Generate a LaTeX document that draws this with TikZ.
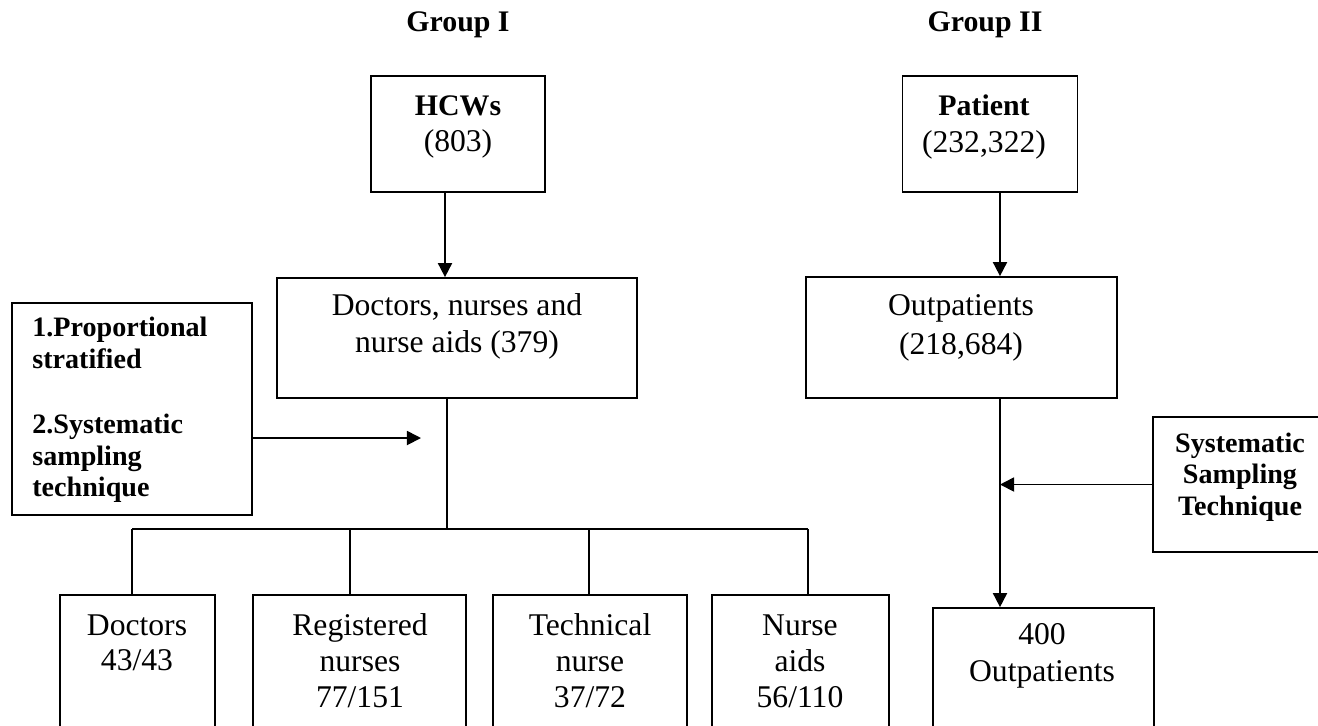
\documentclass[tikz,border=0pt]{standalone}
\usepackage{fontspec}
\setmainfont{Liberation Serif}
\usetikzlibrary{arrows.meta, positioning}

\begin{document}
\begin{tikzpicture}[
  x=0.02cm, y=-0.02cm,
  font=\fontsize{18}{21}\selectfont,
  box/.style={draw, line width=1pt, inner sep=0pt},
  txt/.style={align=center, inner sep=0pt},
  bold/.style={font=\fontsize{16}{18}\selectfont\bfseries},
  head/.style={font=\fontsize{17}{18}\selectfont\bfseries},
  arrow/.style={
    -{Triangle[length=8pt, width=8pt]},
    line width=1pt}
]
\useasboundingbox (0,0) rectangle (1318,725);
\clip (0,0) rectangle (1318,725);

% titles
\node[head] (g1) at (458,25) {Group I};
\node[head] (g2) at (985,25) {Group II};

% group I
\node[box, minimum width=3.48cm, minimum height=2.32cm] (hcw) at (458,134) {};
\node[txt] (hcwt) at (458,127)
  {{\fontsize{17}{21}\selectfont\bfseries HCWs}\\(803)};
\node[box, minimum width=7.2cm, minimum height=2.4cm] (dna) at (457,338) {};
\node[txt] (dnat) at (457,326) {Doctors, nurses and\\nurse aids (379)};

\node[box, minimum width=4.8cm, minimum height=4.24cm] (meth) at (132,409) {};
\node[txt, bold, align=left, anchor=west] (metht) at (32,410)
  {1.Proportional\\stratified\\[19pt]2.Systematic\\sampling\\technique};

\node[box, minimum width=3.1cm, minimum height=3.7cm] (doc) at (137.5,687.5) {};
\node[txt, font=\fontsize{18}{20}\selectfont] (doct) at (137,643) {Doctors\\43/43};
\node[box, minimum width=4.26cm, minimum height=3.7cm] (reg) at (359.5,687.5) {};
\node[txt, font=\fontsize{18}{20.5}\selectfont] (regt) at (360,661)
  {Registered\\nurses\\77/151};
\node[box, minimum width=3.88cm, minimum height=3.7cm] (tec) at (590,687.5) {};
\node[txt, font=\fontsize{18}{20.5}\selectfont] (tect) at (590,661)
  {Technical\\nurse\\37/72};
\node[box, minimum width=3.54cm, minimum height=3.7cm] (aid) at (800.5,687.5) {};
\node[txt, font=\fontsize{18}{20.5}\selectfont] (aidt) at (800,661)
  {Nurse\\aids\\56/110};

% group II
\node[box, minimum width=3.5cm, minimum height=2.32cm] (pat) at (990,134) {};
\node[txt] (patt) at (984,127)
  {{\fontsize{17}{21}\selectfont\bfseries Patient}\\(232,322)};
\node[box, minimum width=6.22cm, minimum height=2.42cm] (out) at (961.5,337.5) {};
\node[txt, font=\fontsize{18}{22}\selectfont] (outt) at (961,328)
  {Outpatients\\(218,684)};
\node[box, minimum width=3.74cm, minimum height=2.7cm] (sys) at (1246.5,484.5) {};
\node[txt, bold] (syst) at (1240,477)
  {Systematic\\Sampling\\Technique};
\node[box, minimum width=4.42cm, minimum height=3.44cm] (opd) at (1043.5,694) {};
\node[txt] (opdt) at (1042,656)
  {400\\Outpatients};

% connectors
\coordinate (lcol) at (445,0);
\coordinate (pcol) at (1000,0);
\coordinate (split) at (447,529);
\coordinate (mtip) at (421,438);

\draw[arrow] (hcw.south -| lcol) -- (dna.north -| lcol);
\draw[line width=1pt] (dna.south -| split) -- (split);
\draw[arrow] (meth.east |- mtip) -- (mtip);
\draw[line width=1pt] (132,529) -- (808,529);
\foreach \n/\x in {doc/132, reg/350, tec/589, aid/808}
  \draw[line width=1pt] (\x,529) -- (\n.north -| \x,529);

\draw[arrow] (pat.south -| pcol) -- (out.north -| pcol);
\draw[arrow] (out.south -| pcol) -- (opd.north -| pcol);
\draw[arrow] (sys.west) -- (sys.west -| pcol);

\end{tikzpicture}
\end{document}
